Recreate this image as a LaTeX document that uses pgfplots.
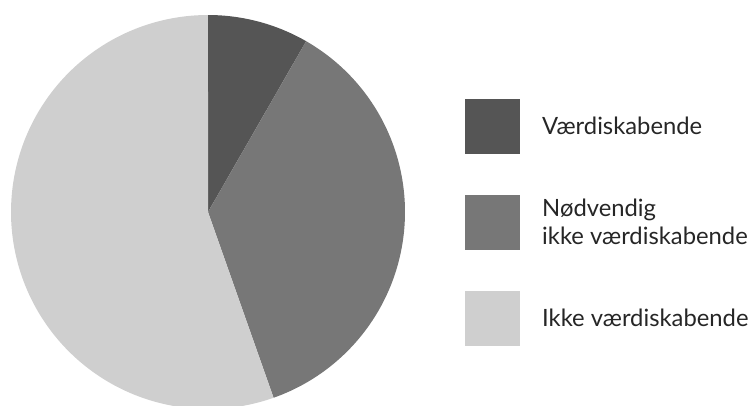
\documentclass[border=0pt]{standalone}
\usepackage{pgfplots}
\pgfplotsset{compat=1.18}
\usepackage{fontspec}
\setmainfont{Lato}
\definecolor{cA}{HTML}{555555}
\definecolor{cB}{HTML}{777777}
\definecolor{cC}{HTML}{CFCFCF}
% slice values (percent)
\def\va{8.3}
\def\vb{36.3}
\def\vc{55.4}
\pgfmathsetmacro{\aA}{90}
\pgfmathsetmacro{\aB}{90-3.6*\va}
\pgfmathsetmacro{\aC}{\aB-3.6*\vb}
\pgfmathsetmacro{\aD}{\aC-3.6*\vc}
\begin{document}
\begin{tikzpicture}
\path[use as bounding box] (0,0) rectangle (751pt,405pt);
\begin{axis}[
  anchor=south west, at={(11pt,-4pt)},
  scale only axis, width=394pt, height=394pt,
  xmin=-1, xmax=1, ymin=-1, ymax=1,
  hide axis, clip=false,
  legend cell align=left,
  legend image code/.code={\fill[#1] (0pt,-27.5pt) rectangle (55pt,27.5pt);},
  legend style={draw=none, fill=none, inner sep=0pt,
    at={(1.1523,0.7868)}, anchor=north west,
    row sep=41pt,
    font=\fontsize{23.8}{28}\selectfont,
    nodes={inner xsep=0pt, inner ysep=0pt, align=left, text=black!85},
    column sep=22pt},
]
\addplot[fill=cA, draw=none, domain=\aA:\aB, samples=60] ({cos(x)},{sin(x)}) -- (axis cs:0,0) -- cycle;
\addlegendentry{Værdiskabende}
\addplot[fill=cB, draw=none, domain=\aB:\aC, samples=120] ({cos(x)},{sin(x)}) -- (axis cs:0,0) -- cycle;
\addlegendentry{Nødvendig\\ikke værdiskabende}
\addplot[fill=cC, draw=none, domain=\aC:\aD, samples=160] ({cos(x)},{sin(x)}) -- (axis cs:0,0) -- cycle;
\addlegendentry{Ikke værdiskabende}
\end{axis}
\end{tikzpicture}
\end{document}
